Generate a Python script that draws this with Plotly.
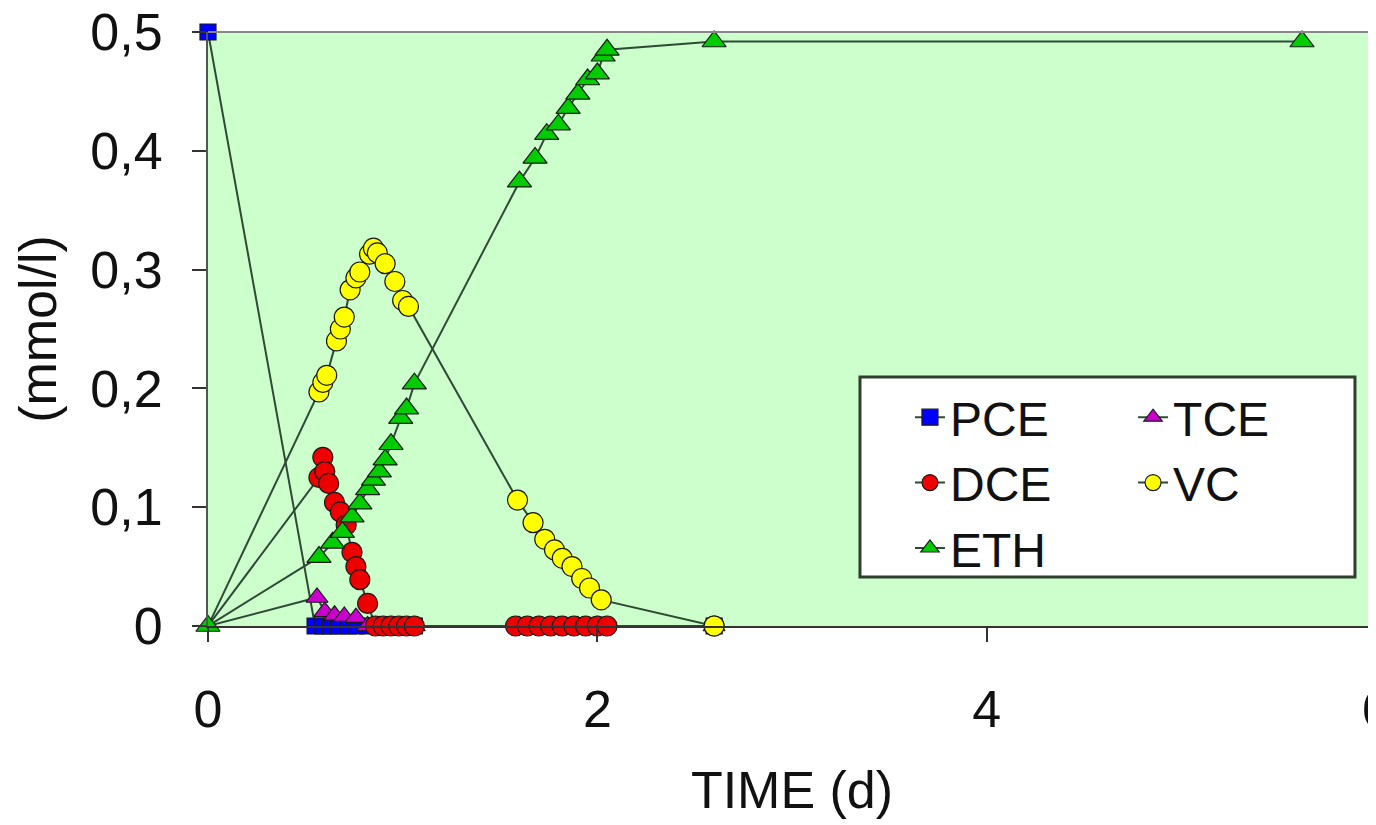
import plotly.graph_objects as go

# ---- data ----
pce_t = [0, 0.55, 0.59, 0.63, 0.67, 0.72, 0.76, 0.82, 0.88, 0.94, 1.00, 1.06, 1.60, 1.70, 1.80, 1.90, 2.00, 2.60]
pce_c = [0.50, 0, 0, 0, 0, 0, 0, 0, 0, 0, 0, 0, 0, 0, 0, 0, 0, 0]

tce_t = [0, 0.56, 0.60, 0.65, 0.70, 0.76, 0.82, 0.88, 0.94, 1.00, 1.06, 1.60, 1.70, 1.80, 1.90, 2.00, 2.60]
tce_c = [0, 0.024, 0.012, 0.009, 0.008, 0.007, 0, 0, 0, 0, 0, 0, 0, 0, 0, 0, 0]

dce_t = [0, 0.57, 0.59, 0.60, 0.62, 0.65, 0.68, 0.71, 0.74, 0.76, 0.78, 0.82,
         0.86, 0.90, 0.94, 0.98, 1.02, 1.06,
         1.58, 1.64, 1.70, 1.76, 1.82, 1.88, 1.94, 2.00, 2.05, 2.60]
dce_c = [0, 0.125, 0.142, 0.130, 0.120, 0.104, 0.096, 0.085, 0.062, 0.050, 0.039, 0.019,
         0, 0, 0, 0, 0, 0,
         0, 0, 0, 0, 0, 0, 0, 0, 0, 0]

vc_t = [0, 0.57, 0.59, 0.61, 0.66, 0.68, 0.70, 0.73, 0.76, 0.78, 0.83, 0.85, 0.87,
        0.91, 0.96, 1.00, 1.03, 1.59, 1.67, 1.73, 1.78, 1.82, 1.87, 1.92, 1.96, 2.02, 2.60]
vc_c = [0, 0.197, 0.205, 0.211, 0.240, 0.250, 0.260, 0.283, 0.293, 0.298, 0.313, 0.318, 0.314,
        0.305, 0.290, 0.274, 0.269, 0.106, 0.087, 0.073, 0.064, 0.057, 0.050, 0.040, 0.032, 0.022, 0.0]

eth_t = [0, 0.57, 0.64, 0.69, 0.74, 0.78, 0.82, 0.85, 0.88, 0.91, 0.94, 0.99, 1.02, 1.06,
         1.60, 1.68, 1.74, 1.80, 1.85, 1.90, 1.95, 2.00, 2.03, 2.05, 2.60, 5.62]
eth_c = [0, 0.058, 0.070, 0.079, 0.092, 0.103, 0.115, 0.123, 0.130, 0.140, 0.153, 0.175, 0.183, 0.204,
         0.374, 0.394, 0.414, 0.422, 0.436, 0.448, 0.460, 0.465, 0.480, 0.485, 0.492, 0.492]

x_ticks = [0, 2, 4, 6]
y_ticks = [0, 0.1, 0.2, 0.3, 0.4, 0.5]

FONT = "Liberation Sans, Arial, sans-serif"
LINE = "#2F4A35"
EDGE = "#1a1a1a"

# name, x, y, symbol, colour, size, marker at t=0 visible, legend column
series = [
    ("PCE", pce_t, pce_c, "square", "#0000FF", 16, True, "legend"),
    ("TCE", tce_t, tce_c, "triangle-up", "#CC00CC", 19, False, "legend2"),
    ("DCE", dce_t, dce_c, "circle", "#EE0000", 20, False, "legend"),
    ("VC", vc_t, vc_c, "circle", "#FFFF00", 20, False, "legend2"),
    ("ETH", eth_t, eth_c, "triangle-up", "#00CC00", 21, True, "legend"),
]

fig = go.Figure()
for name, t, c, sym, col, size, show_first, leg in series:
    sizes = [size] * len(t)
    if not show_first:
        sizes[0] = 0
    fig.add_trace(go.Scatter(
        x=t, y=c, name=name, mode="lines+markers", legend=leg,
        line=dict(color=LINE, width=2),
        marker=dict(symbol=sym, color=col, size=sizes, opacity=1,
                    line=dict(color=EDGE, width=1.2)),
        cliponaxis=False,
    ))

# page body has an 8px margin: figure is 8px smaller so the plot sits where the reference's does
W, H = 1376 - 8, 825 - 8
leg_font = dict(family=FONT, size=48, color="#111")
fig.update_layout(
    width=W, height=H,
    margin=dict(l=200, r=0, t=24, b=199, autoexpand=False),
    paper_bgcolor="white",
    plot_bgcolor="#CCFFCC",
    separators=",.",
    font=dict(family=FONT, size=52, color="#111"),
    showlegend=True,
    legend=dict(orientation="v", x=0.601, y=0.415, xanchor="left", yanchor="top",
                bgcolor="rgba(0,0,0,0)", borderwidth=0, font=leg_font),
    legend2=dict(orientation="v", x=0.792, y=0.415, xanchor="left", yanchor="top",
                 bgcolor="rgba(0,0,0,0)", borderwidth=0, font=leg_font),
)

fig.update_xaxes(
    range=[0, 6], tickvals=x_ticks, showgrid=False, zeroline=False,
    automargin=False, ticklabeloverflow="allow",
    showline=True, linecolor="#333", linewidth=2, mirror=False,
    ticks="outside", ticklen=14, tickwidth=2, tickcolor="#333",
    ticklabelstandoff=23,
    title=dict(text="TIME (d)", standoff=34, font=dict(family=FONT, size=52)),
)
fig.update_yaxes(
    range=[0, 0.5], tickvals=y_ticks, showgrid=False, zeroline=False,
    automargin=False, ticklabeloverflow="allow",
    showline=True, linecolor="#555", linewidth=2,
    ticks="outside", ticklen=14, tickwidth=2, tickcolor="#333",
    ticklabelstandoff=19,
    title=dict(text="(mmol/l)", standoff=17, font=dict(family=FONT, size=52)),
)

# top border of the plot area
fig.add_shape(type="line", xref="paper", yref="paper", x0=0, x1=1, y0=1, y1=1,
              line=dict(color="#888", width=2))
# legend box (white, framed) behind the two legend columns
fig.add_shape(type="rect", xref="paper", yref="paper", layer="above",
              x0=0.5582, x1=0.982, y0=0.0825, y1=0.419,
              fillcolor="white", line=dict(color="#2F3F2F", width=3))

fig.write_html("out.html")
